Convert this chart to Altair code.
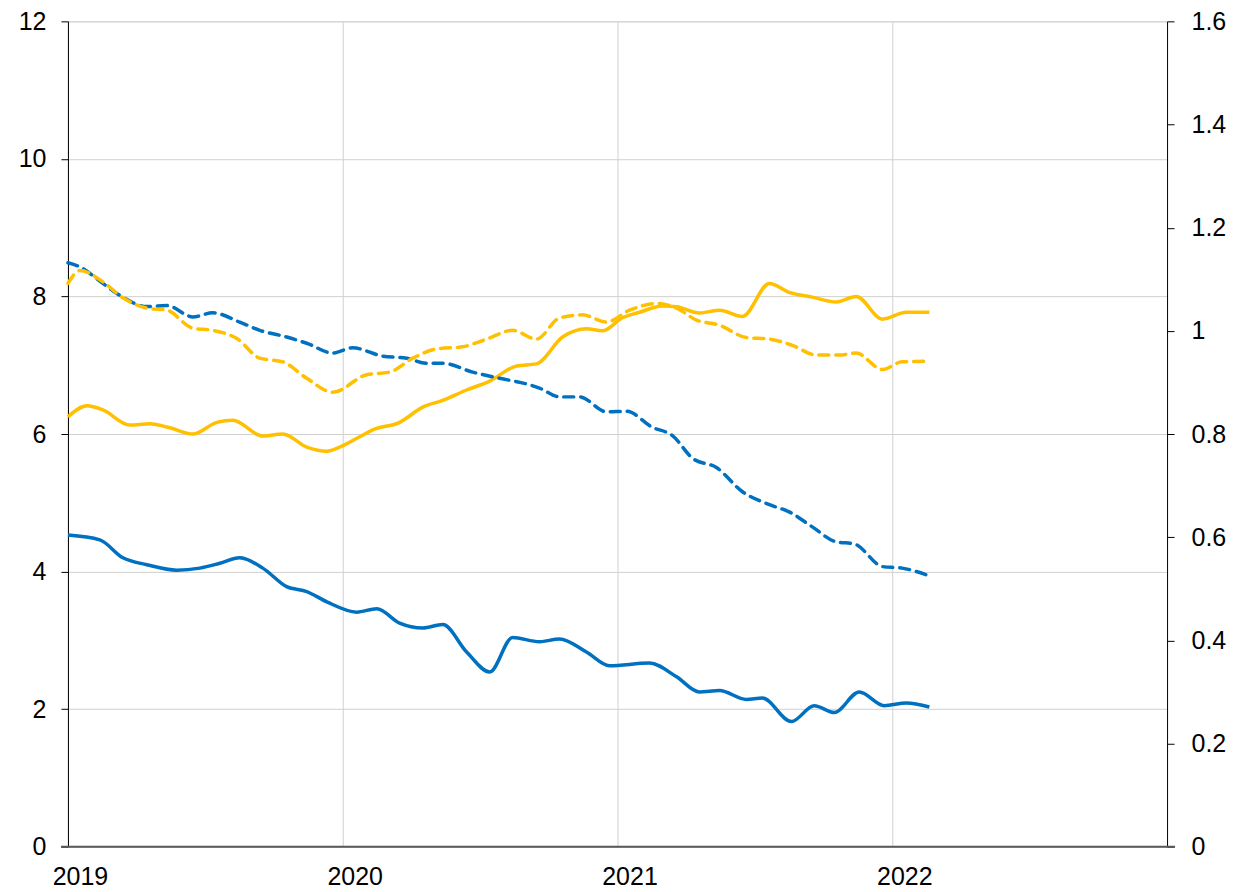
import altair as alt
import pandas as pd

# ---- data (x in decimal years) ----
blue_solid_x = [2019.000, 2019.116, 2019.200, 2019.287, 2019.396, 2019.480, 2019.553, 2019.625, 2019.709, 2019.796,
                2019.869, 2019.942, 2020.051, 2020.124, 2020.207, 2020.291, 2020.364, 2020.451, 2020.535, 2020.618,
                2020.716, 2020.789, 2020.887, 2020.971, 2021.116, 2021.215, 2021.298, 2021.371, 2021.469, 2021.527,
                2021.633, 2021.716, 2021.789, 2021.880, 2021.971, 2022.051, 2022.135]
blue_solid_y = [4.53, 4.46, 4.20, 4.10, 4.02, 4.05, 4.12, 4.20, 4.05, 3.78,
                3.71, 3.56, 3.41, 3.46, 3.25, 3.18, 3.23, 2.83, 2.54, 3.04,
                2.98, 3.02, 2.83, 2.63, 2.67, 2.47, 2.25, 2.27, 2.14, 2.16,
                1.82, 2.05, 1.95, 2.25, 2.05, 2.09, 2.03]

yellow_solid_x = [2019.000, 2019.069, 2019.127, 2019.225, 2019.298, 2019.371, 2019.455, 2019.542, 2019.600, 2019.709,
                  2019.782, 2019.869, 2019.942, 2019.989, 2020.062, 2020.109, 2020.207, 2020.291, 2020.364, 2020.451,
                  2020.535, 2020.633, 2020.705, 2020.800, 2020.887, 2020.945, 2021.018, 2021.080, 2021.164, 2021.215,
                  2021.298, 2021.371, 2021.455, 2021.553, 2021.625, 2021.709, 2021.796, 2021.869, 2021.964, 2022.051,
                  2022.135]
yellow_solid_y = [6.25, 6.41, 6.35, 6.13, 6.15, 6.09, 6.00, 6.17, 6.20, 5.97,
                  6.00, 5.81, 5.75, 5.81, 5.96, 6.06, 6.17, 6.39, 6.49, 6.64,
                  6.77, 6.99, 7.02, 7.41, 7.53, 7.50, 7.69, 7.77, 7.86, 7.85,
                  7.76, 7.80, 7.71, 8.19, 8.06, 7.99, 7.92, 8.00, 7.67, 7.77,
                  7.77]

blue_dashed_x = [2019.000, 2019.044, 2019.127, 2019.200, 2019.287, 2019.360, 2019.455, 2019.527, 2019.625, 2019.698,
                 2019.796, 2019.869, 2019.964, 2020.036, 2020.145, 2020.233, 2020.305, 2020.364, 2020.473, 2020.571,
                 2020.669, 2020.716, 2020.789, 2020.862, 2020.960, 2021.033, 2021.127, 2021.200, 2021.273, 2021.360,
                 2021.455, 2021.553, 2021.625, 2021.709, 2021.796, 2021.862, 2021.964, 2022.036, 2022.135]
blue_dashed_y = [1.132, 1.124, 1.092, 1.065, 1.047, 1.049, 1.027, 1.035, 1.017, 1.001,
                 0.988, 0.976, 0.957, 0.967, 0.951, 0.947, 0.937, 0.937, 0.920, 0.908,
                 0.897, 0.889, 0.872, 0.872, 0.843, 0.844, 0.813, 0.797, 0.753, 0.735,
                 0.688, 0.663, 0.649, 0.620, 0.591, 0.587, 0.543, 0.540, 0.525]

yellow_dashed_x = [2019.000, 2019.044, 2019.127, 2019.200, 2019.287, 2019.360, 2019.455, 2019.527, 2019.615, 2019.698,
                   2019.782, 2019.869, 2019.964, 2020.087, 2020.171, 2020.255, 2020.342, 2020.436, 2020.524, 2020.618,
                   2020.705, 2020.789, 2020.873, 2020.960, 2021.044, 2021.142, 2021.215, 2021.287, 2021.371, 2021.469,
                   2021.553, 2021.636, 2021.724, 2021.807, 2021.869, 2021.964, 2022.036, 2022.135]
yellow_dashed_y = [1.092, 1.117, 1.095, 1.064, 1.044, 1.040, 1.005, 1.001, 0.985, 0.947,
                   0.940, 0.908, 0.881, 0.915, 0.920, 0.947, 0.965, 0.969, 0.984, 1.001,
                   0.984, 1.025, 1.031, 1.017, 1.040, 1.053, 1.044, 1.021, 1.011, 0.987,
                   0.984, 0.972, 0.953, 0.953, 0.957, 0.925, 0.940, 0.941]

year_ticks = [2019, 2020, 2021, 2022]
left_ticks = [0, 2, 4, 6, 8, 10, 12]
right_ticks = [0, 0.2, 0.4, 0.6, 0.8, 1.0, 1.2, 1.4, 1.6]

series_names = ["Blue (left)", "Yellow (left)", "Blue (right)", "Yellow (right)"]
series_colors = ["#0070C0", "#FFC000", "#0070C0", "#FFC000"]


def frame(name, xs, ys):
    return pd.DataFrame({"year": xs, "value": ys, "series": name})


left_df = pd.concat([frame("Blue (left)", blue_solid_x, blue_solid_y),
                     frame("Yellow (left)", yellow_solid_x, yellow_solid_y)])
right_df = pd.concat([frame("Blue (right)", blue_dashed_x, blue_dashed_y),
                      frame("Yellow (right)", yellow_dashed_x, yellow_dashed_y)])

FONT = "Liberation Sans"
W, H = 1100, 826
GRID = "#D0D0D0"

color = alt.Color("series:N", scale=alt.Scale(domain=series_names, range=series_colors), legend=None)

x_enc = alt.X("year:Q",
              scale=alt.Scale(domain=[2019, 2023], nice=False, zero=False),
              axis=alt.Axis(values=year_ticks, format="d", title=None, grid=True, gridColor=GRID,
                            gridWidth=1, domain=False, ticks=False, labelOffset=12, labelPadding=18,
                            labelFlush=False, labelFontSize=25, labelFont=FONT, labelColor="black"))

left = alt.Chart(left_df).mark_line(interpolate="monotone", strokeWidth=3.5).encode(
    x=x_enc,
    y=alt.Y("value:Q", scale=alt.Scale(domain=[0, 12], nice=False),
            axis=alt.Axis(orient="left", values=left_ticks, title=None, grid=True, gridColor=GRID,
                          gridWidth=1, domainColor="black", domainWidth=1, tickColor="black",
                          tickSize=7, labelPadding=15, labelFontSize=25, labelFont=FONT,
                          labelColor="black")),
    color=color,
    detail="series:N",
)

right = alt.Chart(right_df).mark_line(interpolate="monotone", strokeWidth=3.5,
                                      strokeDash=[10, 7], strokeCap="round").encode(
    x=x_enc,
    y=alt.Y("value:Q", scale=alt.Scale(domain=[0, 1.6], nice=False),
            axis=alt.Axis(orient="right", values=right_ticks, format=".1~f", title=None, grid=False,
                          domainColor="black", domainWidth=1, tickColor="black", tickSize=7,
                          labelPadding=17, labelFontSize=25, labelFont=FONT, labelColor="black")),
    color=color,
    detail="series:N",
)

baseline = alt.Chart(pd.DataFrame({"year": [2019]})).mark_rule(color="#595959", strokeWidth=2).encode(
    x=alt.value(-7), x2=alt.value(W + 8), y=alt.value(H)
)

chart = alt.layer(left, right, baseline).resolve_scale(y="independent").properties(
    width=W, height=H,
    padding={"left": 60, "top": 13, "right": 60, "bottom": 50},
    autosize=alt.AutoSizeParams(type="none"),
).configure_view(stroke=None).configure(background="white")

chart.save("out.html", embed_options={"renderer": "svg", "actions": False})
